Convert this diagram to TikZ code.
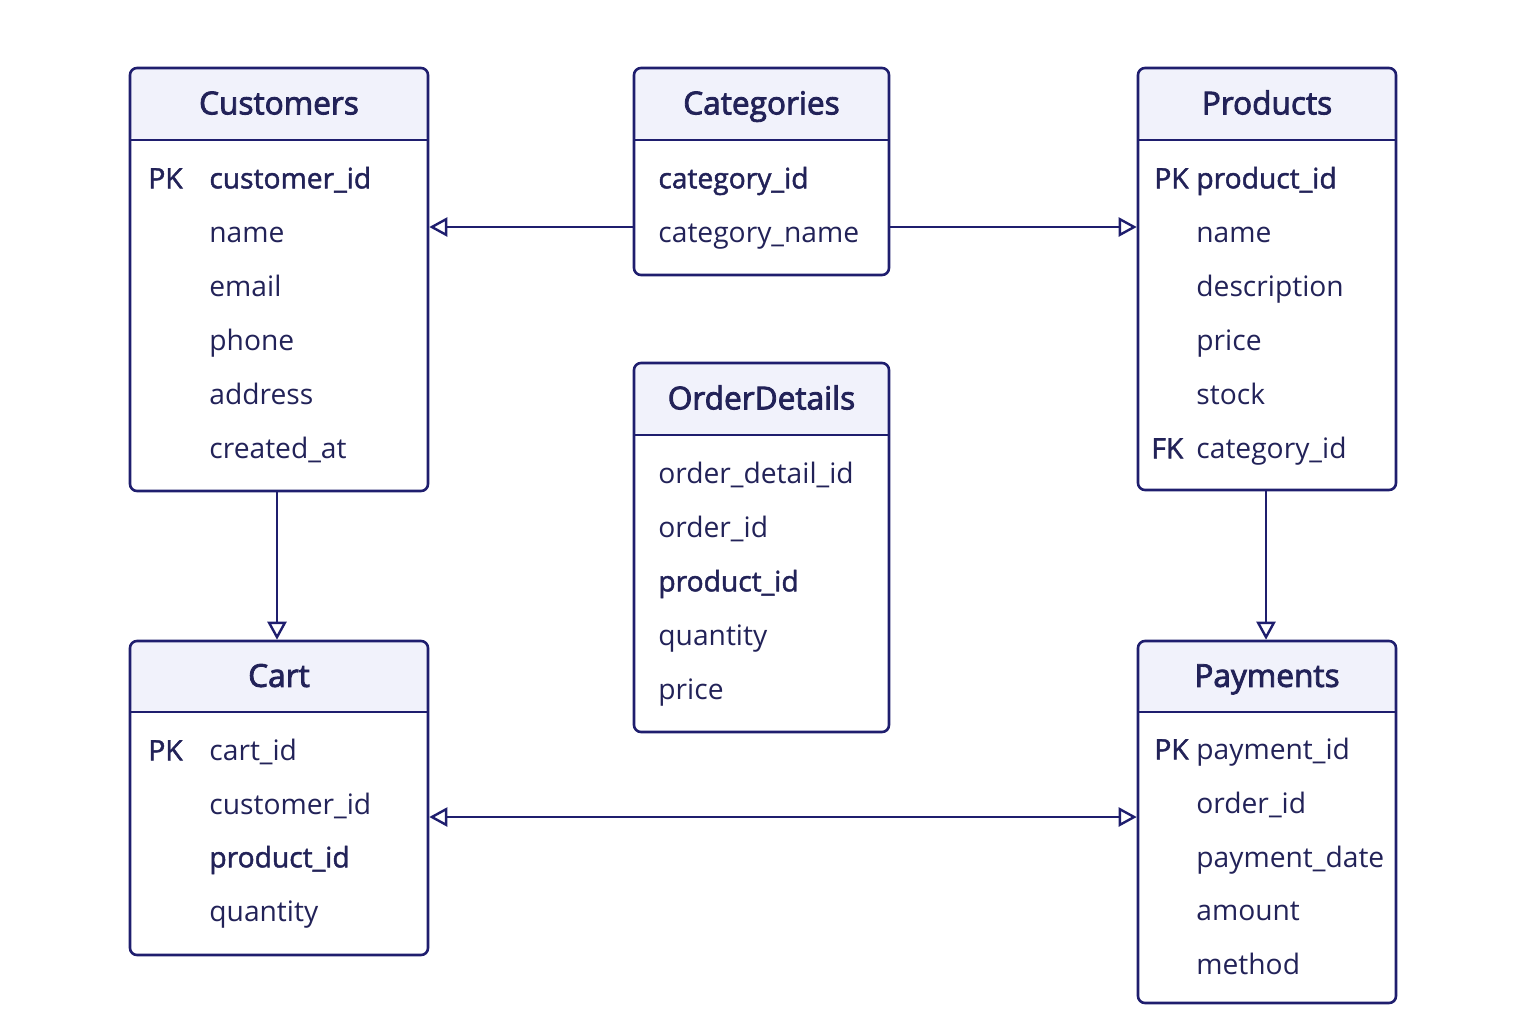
\documentclass[tikz,border=0pt]{standalone}
\usepackage{fontspec}
\setmainfont{Open Sans}
\newfontfamily\medfont[FakeBold=1.6]{Open Sans}
\newfontfamily\titlefont[FakeBold=2.6]{Open Sans}
\usetikzlibrary{arrows.meta,fit}
\definecolor{ink}{HTML}{1F1E6E}
\definecolor{txt}{HTML}{222258}
\definecolor{headfill}{HTML}{F1F2FB}
\tikzset{
  tablebox/.style={draw=ink, line width=1.3pt, rounded corners=3.5pt, inner sep=0pt},
  headline/.style={draw=ink, line width=1.3pt},
  ttl/.style={text=txt, font=\titlefont\fontsize{15.8}{18}\selectfont, anchor=mid},
  fld/.style={text=txt, font=\fontsize{14.1}{16}\selectfont, anchor=mid west, inner sep=0pt},
  keyfld/.style={fld, font=\medfont\fontsize{14.1}{16}\selectfont},
  rel/.style={draw=ink, line width=1.2pt, -{Triangle[open, length=9pt, width=9.5pt, line width=1.2pt]}},
  relboth/.style={draw=ink, line width=1.2pt, {Triangle[open, length=9pt, width=9.5pt, line width=1.2pt]}-{Triangle[open, length=9pt, width=9.5pt, line width=1.2pt]}}
}
% #1 name, #2 x1, #3 y1, #4 x2, #5 y2, #6 header line y, #7 title
\newcommand{\erdtable}[7]{%
  \fill[headfill, rounded corners=3.5pt] (#2,#3) rectangle (#4,#6);
  \node[tablebox, fit={(#2,#3) (#4,#5)}] (#1) {};
  \draw[headline] (#2,#6) -- (#4,#6);
  \node[ttl] (#1-title) at ({(#2+#4)/2},{(#3+#6)/2+5}) {#7};
}
\begin{document}
\begin{tikzpicture}[x=0.5pt,y=-0.5pt]
\useasboundingbox (0,0) rectangle (1536,1024);

% Customers
\erdtable{cust}{130}{68}{428}{491}{140}{Customers}
\node[keyfld] (cust-k1) at (148,183) {PK};
\node[keyfld] (cust-f1) at (209,183) {customer\_id};
\node[fld] (cust-f2) at (209,237) {name};
\node[fld] (cust-f3) at (209,291) {email};
\node[fld] (cust-f4) at (209,345) {phone};
\node[fld] (cust-f5) at (209,399) {address};
\node[fld] (cust-f6) at (209,453) {created\_at};

% Categories
\erdtable{cat}{634}{68}{889}{275}{140}{Categories}
\node[keyfld] (cat-f1) at (658,183) {category\_id};
\node[fld] (cat-f2) at (658,237) {category\_name};

% Products
\erdtable{prod}{1138}{68}{1396}{490}{140}{Products}
\node[keyfld] (prod-k1) at (1154,183) {PK};
\node[keyfld] (prod-f1) at (1196,183) {product\_id};
\node[fld] (prod-f2) at (1196,237) {name};
\node[fld] (prod-f3) at (1196,291) {description};
\node[fld] (prod-f4) at (1196,345) {price};
\node[fld] (prod-f5) at (1196,399) {stock};
\node[keyfld] (prod-k6) at (1151,453) {FK};
\node[fld] (prod-f6) at (1196,453) {category\_id};

% OrderDetails
\erdtable{od}{634}{363}{889}{732}{435}{OrderDetails}
\node[fld] (od-f1) at (658,478) {order\_detail\_id};
\node[fld] (od-f2) at (658,532) {order\_id};
\node[keyfld] (od-f3) at (658,586) {product\_id};
\node[fld] (od-f4) at (658,640) {quantity};
\node[fld] (od-f5) at (658,694) {price};

% Cart
\erdtable{cart}{130}{641}{428}{955}{712}{Cart}
\node[keyfld] (cart-k1) at (148,755) {PK};
\node[fld] (cart-f1) at (209,755) {cart\_id};
\node[fld] (cart-f2) at (209,809) {customer\_id};
\node[keyfld] (cart-f3) at (209,862) {product\_id};
\node[fld] (cart-f4) at (209,916) {quantity};

% Payments
\erdtable{pay}{1138}{641}{1396}{1003}{712}{Payments}
\node[keyfld] (pay-k1) at (1154,754) {PK};
\node[fld] (pay-f1) at (1196,754) {payment\_id};
\node[fld] (pay-f2) at (1196,808) {order\_id};
\node[fld] (pay-f3) at (1196,862) {payment\_date};
\node[fld] (pay-f4) at (1196,915) {amount};
\node[fld] (pay-f5) at (1196,969) {method};

% Relationships
\draw[rel] (cat.west |- 0,227) -- (cust.east |- 0,227);
\draw[rel] (cat.east |- 0,227) -- (prod.west |- 0,227);
\draw[rel] (cust.south -| 277,0) -- (cart.north -| 277,0);
\draw[rel] (prod.south -| 1266,0) -- (pay.north -| 1266,0);
\draw[relboth] (cart.east |- 0,817) -- (pay.west |- 0,817);
\end{tikzpicture}
\end{document}
